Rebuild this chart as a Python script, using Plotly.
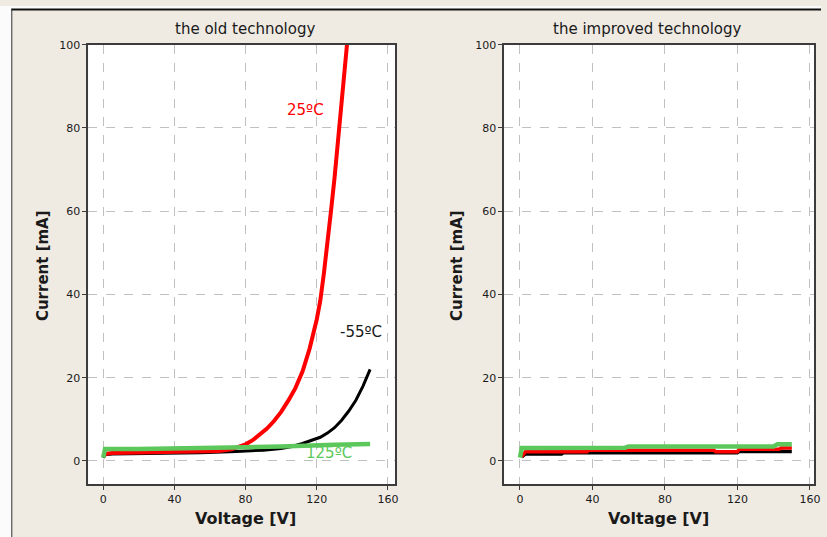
import plotly.graph_objects as go

# ---------------- data ----------------
# old technology
v_red_old = [0, 1, 5, 20, 40, 55, 65, 72, 76, 80, 84, 88, 92, 96, 100, 104, 108, 112, 116, 120, 122, 124, 126, 128, 130, 132, 134, 136, 137]
i_red_old = [1.0, 1.7, 1.9, 2.0, 2.1, 2.2, 2.4, 2.8, 3.3, 4.0, 5.0, 6.3, 7.8, 9.6, 11.8, 14.5, 17.5, 21.5, 27, 34, 38.5, 45, 52, 60, 68, 77, 86, 95, 100]
v_blk_old = [0, 1, 5, 30, 55, 75, 90, 100, 106, 112, 118, 122, 126, 130, 134, 138, 142, 146, 150]
i_blk_old = [0.8, 1.5, 1.7, 1.8, 2.0, 2.3, 2.6, 3.0, 3.5, 4.2, 5.0, 5.7, 6.7, 8.0, 9.8, 12.0, 14.6, 18.0, 22.0]
v_grn_old = [0, 0.5, 1, 20, 55, 60, 80, 100, 105, 125, 130, 150]
i_grn_old = [0.8, 1.5, 2.9, 2.9, 3.0, 3.2, 3.3, 3.5, 3.6, 3.8, 3.9, 4.1]

# improved technology
v_blk_new = [1, 3, 23, 24, 107, 120, 121, 150]
i_blk_new = [1.0, 1.7, 1.7, 2.0, 2.0, 2.0, 2.3, 2.3]
v_red_new = [1, 3, 37, 38, 107, 108, 120, 121, 143, 144, 150]
i_red_new = [1.0, 2.2, 2.2, 2.6, 2.6, 2.2, 2.2, 2.8, 2.8, 3.1, 3.1]
v_grn_new = [0, 1, 58, 60, 140, 142, 150]
i_grn_new = [0.8, 3.1, 3.2, 3.5, 3.5, 4.0, 4.0]

titles = ["the old technology", "the improved technology"]
labels_old = ["25ºC", "-55ºC", "125ºC"]
x_ticks = [0, 40, 80, 120, 160]
y_ticks = [0, 20, 40, 60, 80, 100]

# ---------------- style ----------------
W, H = 827, 537
BG = "#efebe3"
RED, BLK, GRN = "#ff0000", "#000000", "#5cc85c"
FONT = "DejaVu Sans"
TXT = "#1a1a1a"

SX, OX = 0.993, -1.3
SY, OY = 0.993, 3.1

def px(xr):
    return ((xr - OX) / SX) / W

def py(yr):
    return 1 - ((yr - OY) / SY) / H

fig = go.Figure()

def add(x, y, color, width, xa, ya):
    fig.add_trace(go.Scatter(x=x, y=y, mode="lines", line=dict(color=color, width=width),
                             xaxis=xa, yaxis=ya, showlegend=False, hoverinfo="skip"))

add(v_blk_old, i_blk_old, BLK, 3, "x", "y")
add(v_red_old, i_red_old, RED, 4, "x", "y")
add(v_grn_old, i_grn_old, GRN, 4.5, "x", "y")

add(v_blk_new, i_blk_new, BLK, 3.5, "x2", "y2")
add(v_red_new, i_red_new, RED, 3.5, "x2", "y2")
add(v_grn_new, i_grn_new, GRN, 4.5, "x2", "y2")

ax_common = dict(
    showgrid=True, gridcolor="#c0c0c0", griddash="dash", gridwidth=1,
    zeroline=False, showline=True, mirror=True, linecolor="#3c3c3c", linewidth=1.6,
    ticks="outside", ticklen=4, tickcolor="#3c3c3c", tickwidth=1,
    tickfont=dict(family=FONT, size=11, color=TXT),
)

ydom = [py(483), py(42)]
fig.update_layout(
    width=W, height=H,
    margin=dict(l=0, r=0, t=0, b=0),
    paper_bgcolor=BG, plot_bgcolor="#ffffff",
    xaxis=dict(domain=[px(87), px(394)], range=[-8.4, 164.1], tickvals=x_ticks, anchor="y", **ax_common),
    yaxis=dict(domain=ydom, range=[-5.5, 100], tickvals=y_ticks, anchor="x", **ax_common),
    xaxis2=dict(domain=[px(503), px(813)], range=[-8.7, 162.3], tickvals=x_ticks, anchor="y2", **ax_common),
    yaxis2=dict(domain=ydom, range=[-5.5, 100], tickvals=y_ticks, anchor="x2", **ax_common),
)

ann = []
for cx, t in [(244, titles[0]), (646, titles[1])]:
    ann.append(dict(x=px(cx), y=py(26), xref="paper", yref="paper", text=t, showarrow=False,
                    xanchor="center", yanchor="middle", font=dict(family=FONT, size=15, color=TXT)))
for cx in [244, 657]:
    ann.append(dict(x=px(cx), y=py(518), xref="paper", yref="paper", text="<b>Voltage [V]</b>",
                    showarrow=False, xanchor="center", yanchor="middle",
                    font=dict(family=FONT, size=16, color=TXT)))
for cx in [42, 456]:
    ann.append(dict(x=px(cx), y=py(264), xref="paper", yref="paper", text="<b>Current [mA]</b>",
                    showarrow=False, xanchor="center", yanchor="middle", textangle=-90,
                    font=dict(family=FONT, size=15, color=TXT)))
ann.append(dict(x=px(304), y=py(96), xref="paper", yref="paper", text=labels_old[0], showarrow=False,
                font=dict(family=FONT, size=15, color=RED)))
ann.append(dict(x=px(360), y=py(330), xref="paper", yref="paper", text=labels_old[1], showarrow=False,
                font=dict(family=FONT, size=15, color=TXT)))
ann.append(dict(x=px(328), y=py(463), xref="paper", yref="paper", text=labels_old[2], showarrow=False,
                font=dict(family=FONT, size=15, color=GRN)))
fig.update_layout(annotations=ann)

shapes = [
    dict(type="rect", xref="paper", yref="paper", x0=0, x1=px(10), y0=0, y1=1,
         fillcolor="#fbfbfb", line=dict(width=0), layer="above"),
    dict(type="rect", xref="paper", yref="paper", x0=0, x1=1, y0=py(6), y1=1,
         fillcolor="#fbfbfb", line=dict(width=0), layer="above"),
    dict(type="line", xref="paper", yref="paper", x0=px(10), x1=1, y0=py(6.5), y1=py(6.5),
         line=dict(color="#111111", width=2), layer="above"),
    dict(type="line", xref="paper", yref="paper", x0=px(10.5), x1=px(10.5), y0=0, y1=py(6),
         line=dict(color="#333333", width=1), layer="above"),
]
fig.update_layout(shapes=shapes)

fig.write_html("out.html")
